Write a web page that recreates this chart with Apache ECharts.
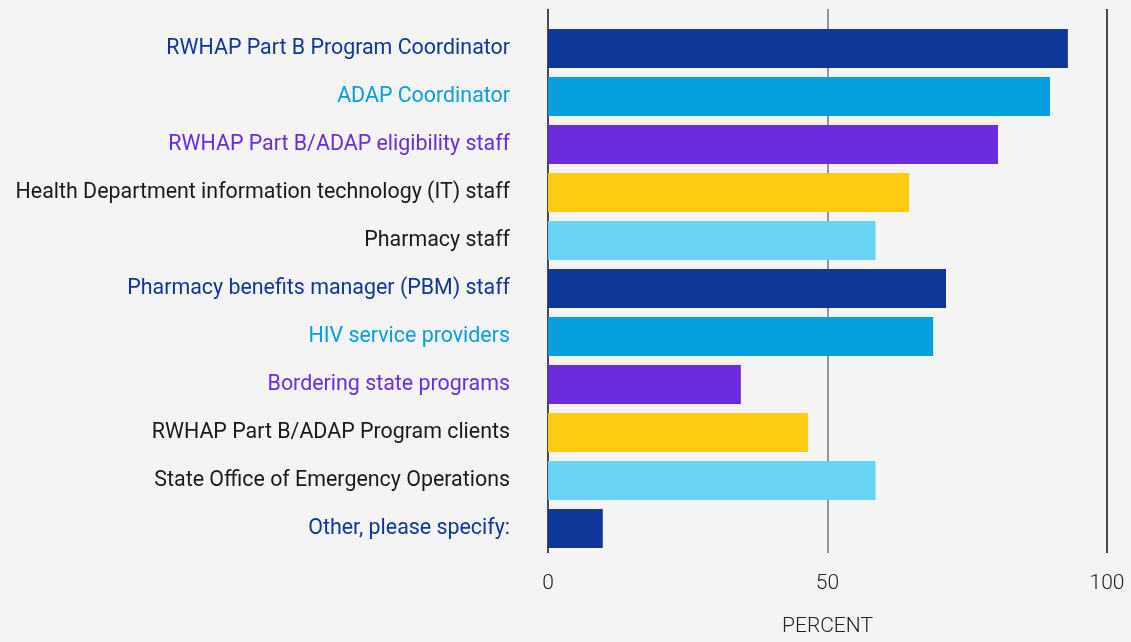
<!DOCTYPE html>
<html>
<head>
<meta charset="utf-8">
<script src="https://cdn.jsdelivr.net/npm/echarts@6/dist/echarts.min.js"></script>
<style>
  html, body { margin: 0; padding: 0; background: #f4f4f4; }
  #chart { width: 1131px; height: 642px; }
</style>
</head>
<body>
<div id="chart"></div>
<script>
const categories = [
  'RWHAP Part B Program Coordinator',
  'ADAP Coordinator',
  'RWHAP Part B/ADAP eligibility staff',
  'Health Department information technology (IT) staff',
  'Pharmacy staff',
  'Pharmacy benefits manager (PBM) staff',
  'HIV service providers',
  'Bordering state programs',
  'RWHAP Part B/ADAP Program clients',
  'State Office of Emergency Operations',
  'Other, please specify:'
];
const values = [93, 89.8, 80.5, 64.6, 58.6, 71.2, 68.9, 34.5, 46.5, 58.6, 9.8];
const xTicks = [0, 50, 100];
const barColors = ['#0f3699', '#049fdf', '#6d2be0', '#fecb12', '#69d3f3',
                   '#0f3699', '#049fdf', '#6d2be0', '#fecb12', '#69d3f3', '#0f3699'];
const labelColors = ['#0f3699', '#049fdf', '#6d2be0', '#1a1a1a', '#1a1a1a',
                     '#0f3699', '#049fdf', '#6d2be0', '#1a1a1a', '#1a1a1a', '#0f3699'];

const chart = echarts.init(document.getElementById('chart'));

// grid 0 carries the gridlines + tick labels (taller), grid 1 carries the bars
chart.setOption({
  backgroundColor: '#f4f4f4',
  animation: false,
  grid: [
    { left: 548, right: 24, top: 9, bottom: 75 },
    { left: 548, right: 24, top: 24.5, bottom: 89.5 }
  ],
  xAxis: [{
    gridIndex: 0,
    type: 'value',
    min: xTicks[0],
    max: xTicks[xTicks.length - 1],
    interval: 50,
    name: 'PERCENT',
    nameLocation: 'middle',
    nameGap: 63,
    nameTextStyle: { fontFamily: 'Roboto', fontSize: 21, fontWeight: 300, color: '#222' },
    axisLine: { show: false },
    axisTick: { show: false },
    axisLabel: { fontFamily: 'Roboto', fontSize: 21, fontWeight: 300, color: '#222', margin: 20 },
    splitLine: { lineStyle: { color: ['#111', '#777', '#111'], width: 1.5 } }
  }, {
    gridIndex: 1,
    type: 'value',
    min: 0,
    max: 100,
    show: false
  }],
  yAxis: [{
    gridIndex: 0,
    type: 'category',
    data: categories,
    show: false
  }, {
    gridIndex: 1,
    type: 'category',
    inverse: true,
    data: categories,
    axisLine: { show: false },
    axisTick: { show: false },
    axisLabel: {
      fontFamily: 'Roboto',
      fontSize: 21.4,
      margin: 38,
      color: (v, i) => labelColors[i]
    }
  }],
  series: [{
    type: 'bar',
    xAxisIndex: 1,
    yAxisIndex: 1,
    barCategoryGap: '18.75%',
    data: values.map((v, i) => ({ value: v, itemStyle: { color: barColors[i] } }))
  }]
});
</script>
</body>
</html>
